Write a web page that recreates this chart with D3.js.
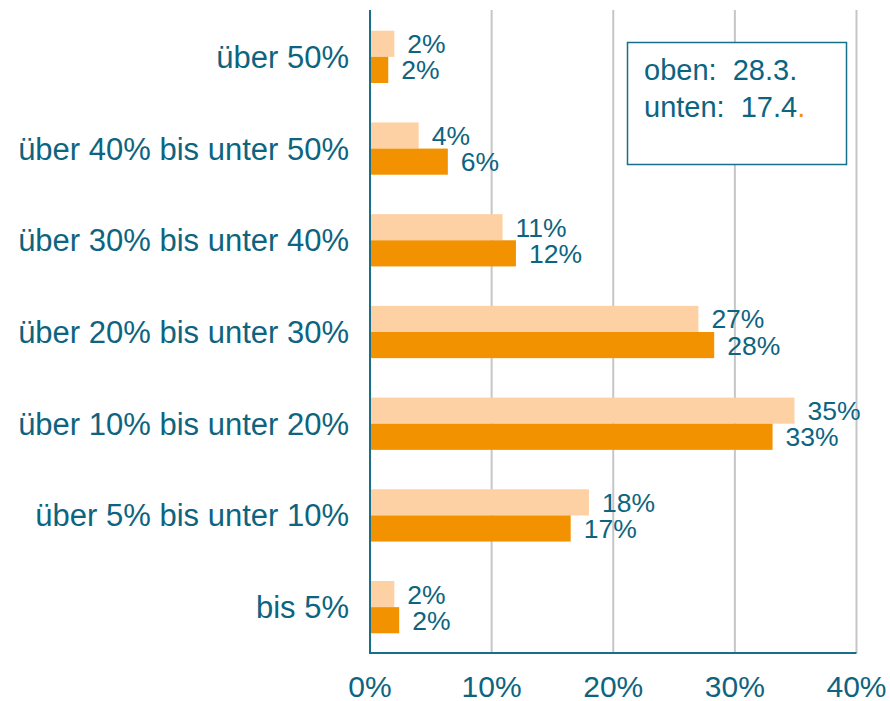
<!DOCTYPE html>
<meta charset="utf-8">
<style>
  body { margin: 0; background: #fff; }
  .chart text { font-family: "Liberation Sans", Arial, sans-serif; fill: #0d6480; }
  .grid line { stroke: #c6c6c6; stroke-width: 2px; }
  .axis path, .axis line { stroke: #17708a; stroke-width: 2px; }
</style>
<body>
<svg class="chart"></svg>
<script src="https://cdn.jsdelivr.net/npm/d3@7"></script>
<script>
  // categories top to bottom and the two series (oben = light, unten = dark)
  var categories = ["über 50%", "über 40% bis unter 50%", "über 30% bis unter 40%",
    "über 20% bis unter 30%", "über 10% bis unter 20%", "über 5% bis unter 10%", "bis 5%"];
  var oben  = [2.0, 4.0, 10.9, 27.0, 34.9, 18.0, 2.0];
  var unten = [1.5, 6.4, 12.0, 28.3, 33.1, 16.5, 2.4];
  var obenLabels  = ["2%", "4%", "11%", "27%", "35%", "18%", "2%"];
  var untenLabels = ["2%", "6%", "12%", "28%", "33%", "17%", "2%"];
  var ticks = [0, 10, 20, 30, 40];
  var legendLines = ["oben:  28.3.", "unten:  17.4"];

  var w = 890, h = 701;
  var x0 = 370, x1 = 856.5, yTop = 11, yBot = 653;

  var svg = d3.select(".chart").attr("width", w).attr("height", h);

  var x = d3.scaleLinear().domain([0, 40]).range([x0, x1]);
  var y = d3.scaleBand().domain(categories).range([yTop, yBot])
    .paddingInner(0.43).paddingOuter(0.215);

  // gridlines
  svg.append("g").attr("class", "grid")
    .selectAll("line").data(ticks.slice(1)).enter().append("line")
    .attr("x1", function (d) { return x(d); })
    .attr("x2", function (d) { return x(d); })
    .attr("y1", 10).attr("y2", yBot);

  // bars
  var rows = categories.map(function (c, i) {
    return { cat: c, oben: oben[i], unten: unten[i], lo: obenLabels[i], lu: untenLabels[i] };
  });
  var half = y.bandwidth() / 2;

  var g = svg.selectAll(".row").data(rows).enter().append("g")
    .attr("transform", function (d) { return "translate(0," + y(d.cat) + ")"; });

  g.append("rect")
    .attr("x", x(0)).attr("y", 0)
    .attr("width", function (d) { return x(d.oben) - x(0); })
    .attr("height", half)
    .attr("fill", "#fdd1a4");

  g.append("rect")
    .attr("x", x(0)).attr("y", half)
    .attr("width", function (d) { return x(d.unten) - x(0); })
    .attr("height", half)
    .attr("fill", "#f39200");

  g.append("text")
    .attr("x", function (d) { return x(d.oben) + 13; })
    .attr("y", half / 2 + 9.5)
    .style("font-size", "26.5px")
    .text(function (d) { return d.lo; });

  g.append("text")
    .attr("x", function (d) { return x(d.unten) + 13; })
    .attr("y", half * 1.5 + 9.5)
    .style("font-size", "26.5px")
    .text(function (d) { return d.lu; });

  // category labels
  svg.append("g").selectAll("text").data(categories).enter().append("text")
    .attr("x", 349)
    .attr("y", function (d) { return y(d) + y.bandwidth() / 2 + 11; })
    .attr("text-anchor", "end")
    .style("font-size", "31px")
    .text(function (d) { return d; });

  // axes
  svg.append("g").attr("class", "axis")
    .append("line").attr("x1", x0).attr("x2", x0).attr("y1", 10).attr("y2", yBot + 1);
  svg.append("g").attr("class", "axis")
    .append("line").attr("x1", x0 - 1).attr("x2", x1).attr("y1", yBot).attr("y2", yBot);

  svg.append("g").selectAll("text").data(ticks).enter().append("text")
    .attr("x", function (d) { return x(d); })
    .attr("y", 697)
    .attr("text-anchor", "middle")
    .style("font-size", "30px")
    .text(function (d) { return d + "%"; });

  // note box
  svg.append("rect")
    .attr("x", 627.5).attr("y", 42.5).attr("width", 219).attr("height", 122)
    .attr("fill", "#fff").attr("stroke", "#17708a").attr("stroke-width", 1.5);

  var note = svg.append("text").attr("x", 644).style("font-size", "29px")
    .attr("xml:space", "preserve").style("white-space", "pre");
  note.append("tspan").attr("x", 644).attr("y", 80).text(legendLines[0]);
  note.append("tspan").attr("x", 644).attr("y", 117).text(legendLines[1]);
  note.append("tspan").style("fill", "#f39200").text(".");
</script>
</body>
